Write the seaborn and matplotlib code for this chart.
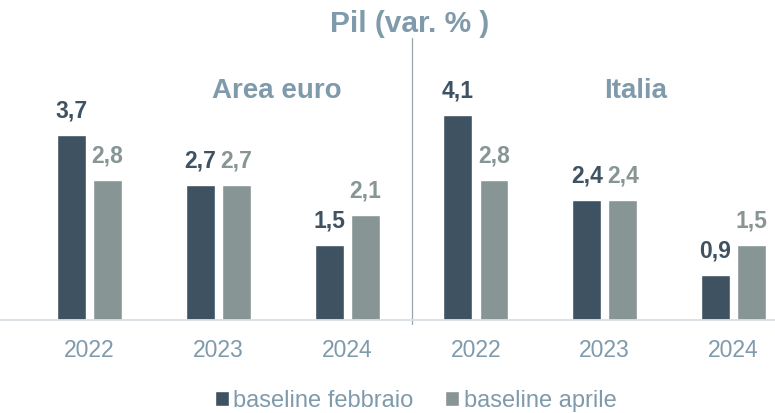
import pandas as pd
import matplotlib.pyplot as plt
import seaborn as sns

# ---------------- DATA ----------------
regions = ["Area euro", "Italia"]
years = ["2022", "2023", "2024"]
baseline_feb = [3.7, 2.7, 1.5, 4.1, 2.4, 0.9]   # Area euro x3, Italia x3
baseline_apr = [2.8, 2.7, 2.1, 2.8, 2.4, 1.5]
series = ["baseline febbraio", "baseline aprile"]

DARK = "#3f5262"
LIGHT = "#889595"
TXT = "#7f9aab"

slots = [f"{r} {y}" for r in regions for y in years]
rows = []
for s, v1, v2 in zip(slots, baseline_feb, baseline_apr):
    rows.append({"slot": s, "serie": series[0], "val": v1})
    rows.append({"slot": s, "serie": series[1], "val": v2})
df = pd.DataFrame(rows)

# ---------------- PLOT ----------------
sns.set_style("white")
plt.rcParams["font.family"] = ["Liberation Sans", "DejaVu Sans"]

fig = plt.figure(figsize=(7.75, 4.13), dpi=100)
ax = fig.add_axes([0, 0.2252, 1, 0.7264])

sns.barplot(data=df, x="slot", y="val", hue="serie", order=slots, hue_order=series,
            palette=[DARK, LIGHT], width=0.56, gap=0.2, saturation=1, ax=ax, legend=True)

ax.set_xlim(-0.695, 5.322)
ax.set_ylim(0, 6.0)
ax.set_xlabel("")
ax.set_ylabel("")
ax.set_yticks([])
ax.set_xticks(range(len(slots)))
ax.set_xticklabels(years * len(regions), fontsize=16.5, color=TXT)
ax.tick_params(axis="x", length=0, pad=14)
for side in ["top", "left", "right"]:
    ax.spines[side].set_visible(False)
ax.spines["bottom"].set_color("#d9dee3")
ax.spines["bottom"].set_linewidth(1.3)

# etichette valori (virgola decimale)
for cont, vals, col in zip(ax.containers, [baseline_feb, baseline_apr], [DARK, LIGHT]):
    labs = [f"{v:.1f}".replace(".", ",") for v in vals]
    ax.bar_label(cont, labels=labs, padding=9, fontsize=16.5, fontweight="bold", color=col)

# separatore tra le due aree
ax.plot([2.5, 2.5], [-0.08, 5.64], color="#9aa5ab", lw=0.9, clip_on=False)

# titoli dei gruppi
ax.text(1.456, 4.44, regions[0], ha="center", va="baseline", fontsize=20,
        fontweight="bold", color=TXT)
ax.text(4.243, 4.44, regions[1], ha="center", va="baseline", fontsize=20,
        fontweight="bold", color=TXT)

fig.text(0.529, 1 - 32 / 413, "Pil (var. % )", ha="center", va="baseline",
         fontsize=21.5, fontweight="bold", color=TXT)

handles, labels = ax.get_legend_handles_labels()
ax.legend_.remove()
fig.legend(handles, labels, loc="center", bbox_to_anchor=(0.536, 0.029), ncol=2,
           frameon=False, fontsize=17, labelcolor=TXT, handlelength=0.6,
           handleheight=0.62, handletextpad=0.18, columnspacing=1.35,
           borderpad=0, borderaxespad=0)

fig.savefig("out.png", dpi=100)
